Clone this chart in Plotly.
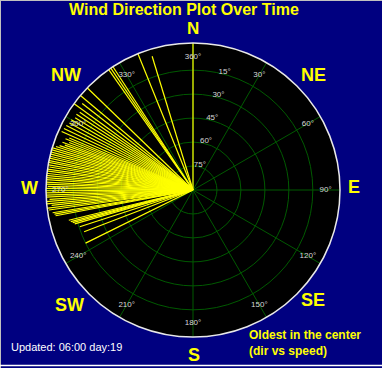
import plotly.graph_objects as go

# ---- data ----
directions = [360, 343, 338, 327, 326, 325, 314, 310, 306,
              308, 304.5, 303, 301.5, 300, 298.5, 297, 295.5, 294,
              292.8, 291.9, 291, 290.1, 289.3, 288.4, 287.6, 286.7, 285.9, 285,
              284.2, 283.3, 282.5, 281.6, 280.8, 279.9, 279.1, 278.2, 277.4, 276.5,
              275.7, 274.8, 274, 273.1, 272.3, 271.4, 270.6, 269.7, 268.9, 268,
              267.2, 266.3, 265.5, 264.6, 263.8, 262.9, 262.1,
              260.8, 260.1, 259.4, 256.3, 255.5, 254.8, 254, 252, 249, 243.7]
speeds = [92, 87.5, 92.5, 100, 99, 96, 93, 100, 93,
          88, 86, 87, 86.5, 88, 88, 89, 89.5, 90,
          84, 86, 83, 87, 85, 88, 90, 96, 94, 97,
          93, 96, 92, 95, 94, 96, 91, 95, 93, 97,
          94, 92, 96, 93, 95, 91, 94, 96, 92, 95,
          93, 90, 94, 92, 89, 93, 91,
          89, 88, 87.5, 80, 79, 78, 77, 74.5, 73, 75]

ring_values = [15, 30, 45, 60, 75]
ring_labels = ["75°", "60°", "45°", "30°", "15°"]
angle_ticks = [0, 30, 60, 90, 120, 150, 180, 210, 240, 270, 300, 330]
angle_labels = ["360°", "30°", "60°", "90°", "120°", "150°", "180°",
                "210°", "240°", "270°", "300°", "330°"]
compass = ["N", "NE", "E", "SE", "S", "SW", "W", "NW"]

W, H = 382, 368
NAVY = "#000080"
GREEN = "#005a00"

# build segment list (center -> point)
r_seg, t_seg = [], []
for d, s in zip(directions, speeds):
    r_seg += [0, s, None]
    t_seg += [d, d, None]

fig = go.Figure()
fig.add_trace(go.Scatterpolar(r=r_seg, theta=t_seg, mode="lines",
                              line=dict(color="#FFFF00", width=1.2),
                              cliponaxis=False, hoverinfo="skip", showlegend=False))
# angular labels inside circle
fig.add_trace(go.Scatterpolar(r=[83] * len(angle_ticks), theta=angle_ticks, mode="text",
                              text=angle_labels,
                              textfont=dict(color="#d8d8d8", size=8, family="Arial"),
                              hoverinfo="skip", showlegend=False))
# radial labels at 15 degrees
fig.add_trace(go.Scatterpolar(r=[v + 1.5 for v in ring_values], theta=[15] * len(ring_values),
                              mode="text", text=ring_labels,
                              textfont=dict(color="#d8d8d8", size=8, family="Arial"),
                              hoverinfo="skip", showlegend=False))

fig.update_layout(
    width=W, height=H,
    margin=dict(l=0, r=0, t=0, b=0),
    paper_bgcolor=NAVY,
    plot_bgcolor=NAVY,
    showlegend=False,
    polar=dict(
        domain=dict(x=[46 / W, 340 / W], y=[1 - 337 / H, 1 - 43 / H]),
        bgcolor="black",
        angularaxis=dict(rotation=90, direction="clockwise",
                         tickmode="array", tickvals=angle_ticks,
                         showticklabels=False, ticks="",
                         gridcolor=GREEN, gridwidth=1,
                         showline=True, linecolor="#e8e8e8", linewidth=1.5),
        radialaxis=dict(range=[0, 92], tickmode="array", tickvals=ring_values,
                        showticklabels=False, ticks="", showline=False,
                        gridcolor=GREEN, gridwidth=1),
    ),
)

# compass labels (paper pixel positions)
compass_pos = {"N": (193, 29), "NE": (313, 75), "E": (354, 187), "SE": (313, 300),
               "S": (194, 355), "SW": (69, 305), "W": (29, 188), "NW": (66, 75)}
ann = []
for c in compass:
    x, y = compass_pos[c]
    ann.append(dict(x=x / W, y=1 - y / H, xref="paper", yref="paper", text="<b>" + c + "</b>",
                    showarrow=False, xanchor="center", yanchor="middle", borderpad=0,
                    font=dict(color="#FFFF00", size=18 if c != "N" else 17, family="Arial")))
ann.append(dict(x=184 / W, y=1 - 9.5 / H, xref="paper", yref="paper",
                text="<b>Wind Direction Plot Over Time</b>", showarrow=False,
                xanchor="center", yanchor="middle", borderpad=0,
                font=dict(color="#FFFF00", size=16, family="Arial")))
ann.append(dict(x=9 / W, y=1 - 347 / H, xref="paper", yref="paper",
                text="Updated: 06:00 day:19", showarrow=False,
                xanchor="left", yanchor="middle",
                font=dict(color="white", size=11, family="Arial")))
ann.append(dict(x=247 / W, y=1 - 335 / H, xref="paper", yref="paper",
                text="<b>Oldest in the center</b>", showarrow=False,
                xanchor="left", yanchor="middle",
                font=dict(color="#FFFF00", size=12, family="Arial")))
ann.append(dict(x=247 / W, y=1 - 351 / H, xref="paper", yref="paper",
                text="<b>(dir vs speed)</b>", showarrow=False,
                xanchor="left", yanchor="middle",
                font=dict(color="#FFFF00", size=12, family="Arial")))
fig.update_layout(annotations=ann)

# window frame
fig.update_layout(shapes=[
    dict(type="line", xref="paper", yref="paper", x0=0, x1=1, y0=1 - 0.5 / H, y1=1 - 0.5 / H,
         line=dict(color="#c0c0c0", width=1)),
    dict(type="line", xref="paper", yref="paper", x0=0.5 / W, x1=0.5 / W, y0=0, y1=1,
         line=dict(color="#c0c0c0", width=1)),
    dict(type="line", xref="paper", yref="paper", x0=0, x1=1, y0=1 - 365.5 / H, y1=1 - 365.5 / H,
         line=dict(color="white", width=1.5)),
])

fig.write_html("out.html")
